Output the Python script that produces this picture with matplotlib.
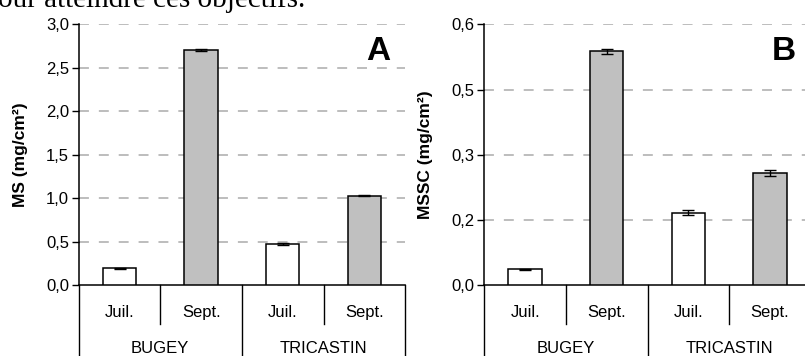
import math
import matplotlib
matplotlib.use("Agg")
import matplotlib.pyplot as plt
from matplotlib.ticker import FixedLocator, FuncFormatter

plt.rcParams['font.family'] = ['Liberation Sans', 'DejaVu Sans']

# --- data ---
months = ["Juil.", "Sept.", "Juil.", "Sept."]
sites = ["BUGEY", "TRICASTIN"]
ms_values = [0.195, 2.70, 0.475, 1.03]
ms_errors = [0.005, 0.012, 0.010, 0.005]
mssc_values = [0.037, 0.538, 0.167, 0.258]
mssc_errors = [0.001, 0.006, 0.005, 0.0076]
ms_ticks = [0.0, 0.5, 1.0, 1.5, 2.0, 2.5, 3.0]
mssc_ticks = [0.0, 0.15, 0.30, 0.45, 0.60]
bar_colors = ["white", "#c0c0c0", "white", "#c0c0c0"]

W, H = 805, 356
fig = plt.figure(figsize=(W / 100, H / 100), dpi=100)

# last line of the surrounding paragraph, cut by the top edge
fig.text(-2 / W, 1 - 7 / H, "our atteindre ces objectifs.", family="Liberation Serif",
         fontsize=21, ha="left", va="baseline")


def fr_fmt(v, pos):
    # one decimal, rounded half up, decimal comma
    r = math.floor(float(v) * 10 + 0.5 + 1e-9) / 10
    return f"{r:.1f}".replace(".", ",")


def panel(left_px, values, errors, ticks, ymax, ylabel, letter):
    ax_w = 4 * 81.6
    ax = fig.add_axes([left_px / W, (H - 285.3) / H, ax_w / W, 261 / H])
    x = list(range(len(values)))
    ax.bar(x, values, width=0.41, color=bar_colors, edgecolor="black",
           linewidth=1.1, zorder=3)
    ax.errorbar(x, values, yerr=errors, fmt="none", ecolor="black",
                elinewidth=1.0, capsize=4.5, capthick=1.0, zorder=4)
    ax.set_xlim(-0.5, 3.5)
    ax.set_ylim(0, ymax)
    ax.yaxis.set_major_locator(FixedLocator(ticks))
    ax.yaxis.set_major_formatter(FuncFormatter(fr_fmt))
    for t in ticks[1:]:
        ax.axhline(t, color="#b8b8b8", linewidth=1.3, dashes=(5.5, 5.5), zorder=1)
    for s in ("top", "right"):
        ax.spines[s].set_visible(False)
    ax.spines["left"].set_linewidth(1.1)
    ax.spines["bottom"].set_linewidth(1.1)
    ax.set_xticks([])
    ax.tick_params(axis="y", length=5, width=1.0, pad=2, labelsize=12)
    ax.set_ylabel(ylabel, fontsize=12.5, fontweight="bold")
    ax.yaxis.set_label_coords(-51 / ax_w, 0.5)

    tr = ax.get_xaxis_transform()
    # category axis: month labels, site labels and separators under the plot
    for i, m in enumerate(months):
        ax.text(i, -27 / 261, m, transform=tr, ha="center", va="center", fontsize=12)
    for j, s in enumerate(sites):
        ax.text(2 * j + 0.5, -63 / 261, s, transform=tr, ha="center", va="center",
                fontsize=12)
    for xs in (0.5, 2.5):
        ax.plot([xs, xs], [0, -39 / 261], transform=tr, color="black",
                linewidth=1.0, clip_on=False)
    for xs in (-0.5, 1.5, 3.5):
        ax.plot([xs, xs], [0, -0.4], transform=tr, color="black",
                linewidth=1.0, clip_on=False)
    ax.text(0.955, 0.895, letter, transform=ax.transAxes, ha="right", va="center",
            fontsize=24, fontweight="bold")
    return ax


panel(78.7, ms_values, ms_errors, ms_ticks, 3.0, "MS (mg/cm²)", "A")
panel(484.3, mssc_values, mssc_errors, mssc_ticks, 0.6, "MSSC (mg/cm²)", "B")

fig.savefig("out.png", dpi=100)
